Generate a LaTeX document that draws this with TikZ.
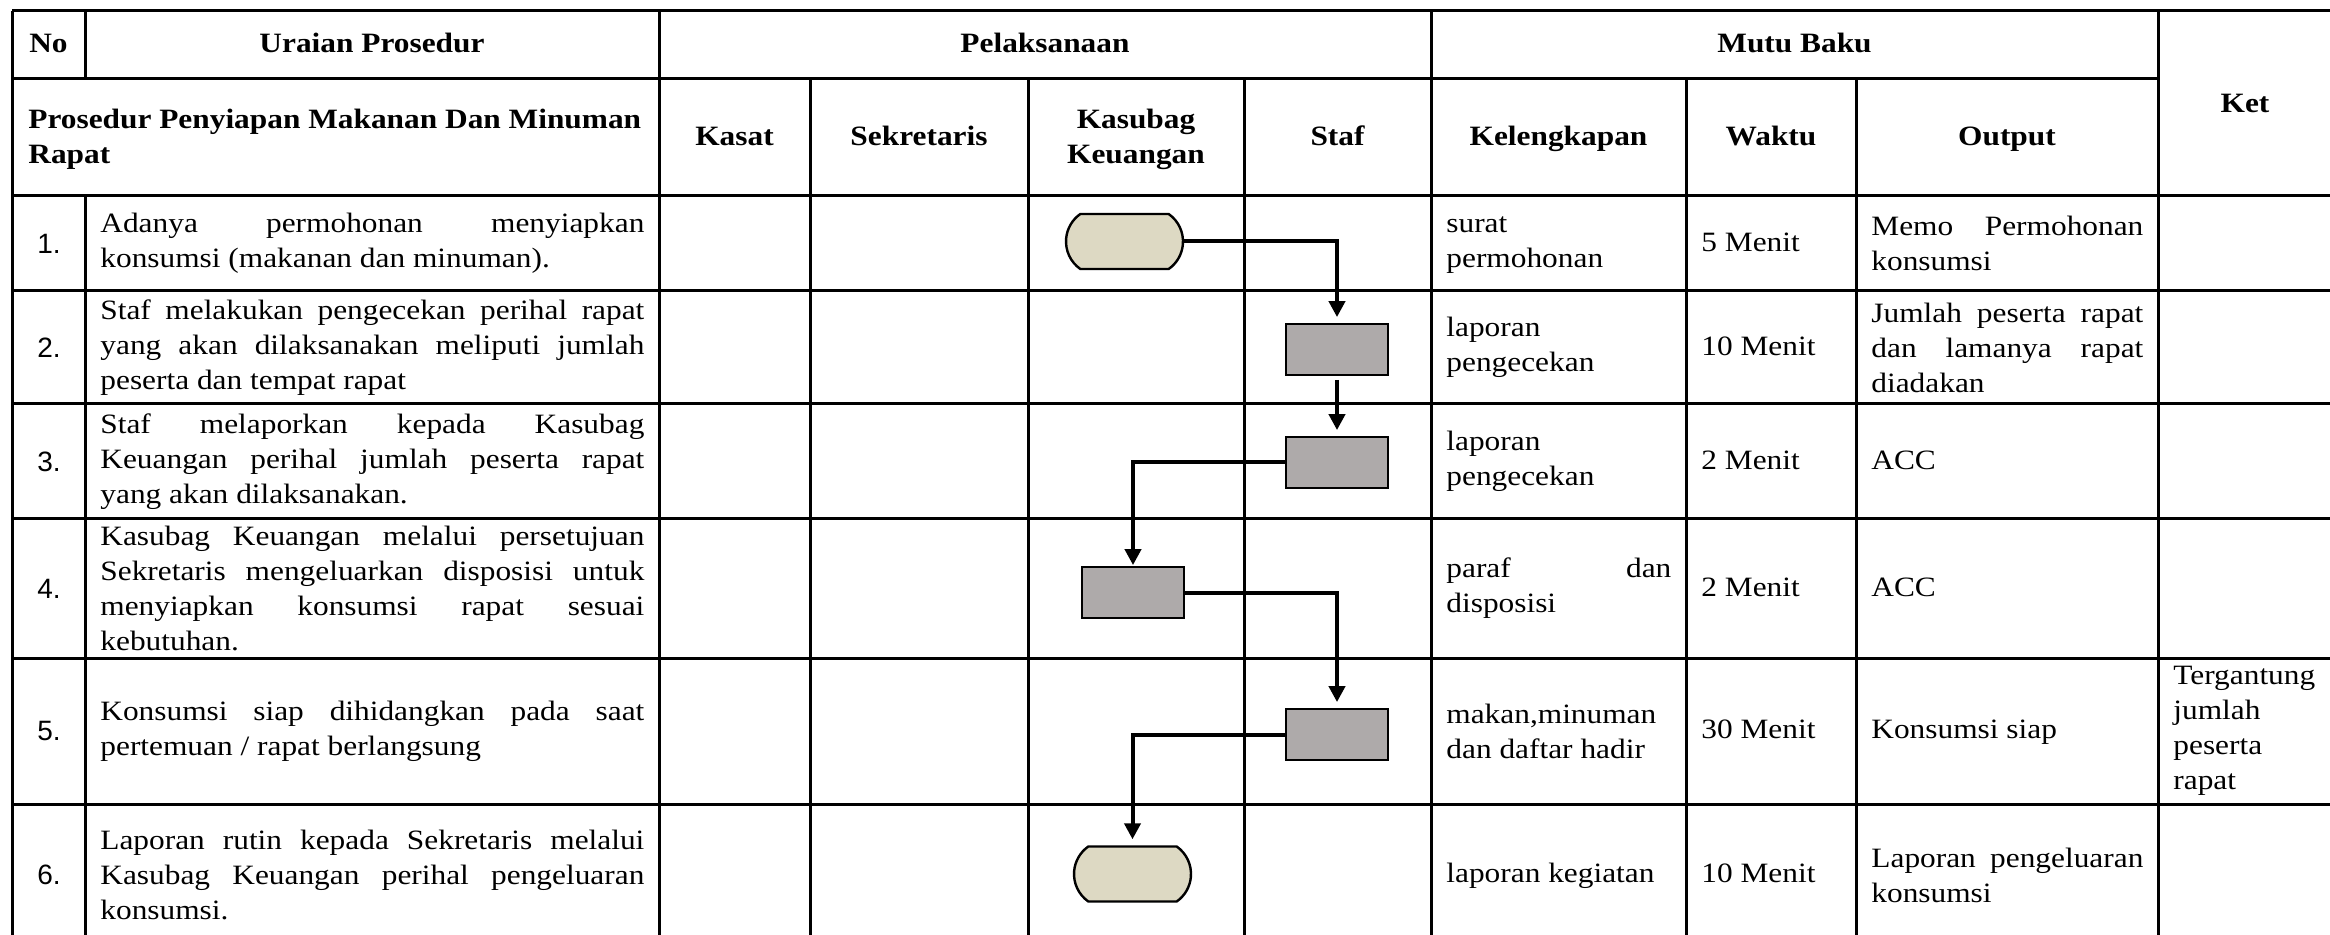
\documentclass[tikz,border=0pt]{standalone}
\usepackage{fontspec}
\setmainfont{Liberation Serif}[FakeStretch=1.12]
\newfontfamily\numfont{Liberation Sans}
\usetikzlibrary{arrows.meta,shapes.misc}
\definecolor{termfill}{HTML}{DDD9C3}
\definecolor{boxfill}{HTML}{AEAAAA}
\begin{document}
\begin{tikzpicture}[x=0.5pt,y=-0.5pt,
  grid/.style={line width=1.5pt},
  term/.style={rounded rectangle, rounded rectangle arc length=110, draw, line width=1.2pt, fill=termfill, minimum width=58.5pt, minimum height=27.5pt, inner sep=0pt},
  proc/.style={rectangle, draw, line width=0.9pt, fill=boxfill, minimum width=51pt, minimum height=25.5pt, inner sep=0pt},
  flow/.style={line width=2pt, -{Triangle[length=8pt,width=8pt]}, shorten >=3pt},
  one/.style={text height=9.8pt, text depth=3.2pt},
  hd/.style={font=\bfseries\fontsize{14}{17.5}\selectfont, align=center, inner sep=0pt},
  num/.style={font=\numfont\fontsize{14}{17.5}\selectfont, inner sep=0pt},
  body/.style={font=\fontsize{14}{17.5}\selectfont, inner sep=0pt, anchor=west},
  desc/.style={body, text width=272pt, align=justify},
  kel/.style={body, text width=112.5pt, align=justify},
  outp/.style={body, text width=136pt, align=justify},
  ketx/.style={body, text width=75pt, align=left}
]
\useasboundingbox (0,0) rectangle (2330,935);
\fill[white] (0,0) rectangle (2330,935);
\clip (0,0) rectangle (2330,935);

% grid
\draw[grid] (12,11) -- (2330,11);
\draw[grid] (12,79) -- (2158,79);
\foreach \yy in {196,291,404,519,658,804} \draw[grid] (12,\yy) -- (2330,\yy);
\draw[grid] (12,11) -- (12,935);
\draw[grid] (85,11) -- (85,79);
\draw[grid] (85,196) -- (85,935);
\foreach \xx in {659,1431,2158} \draw[grid] (\xx,11) -- (\xx,935);
\foreach \xx in {810,1028,1244,1686,1856} \draw[grid] (\xx,79) -- (\xx,935);

% header
\node[hd, one] (hNo) at (48.5,46) {No};
\node[hd, one] (hUr) at (372,46) {Uraian Prosedur};
\node[hd, one] (hPel) at (1045,46) {Pelaksanaan};
\node[hd, one] (hMutu) at (1794.5,46) {Mutu Baku};
\node[hd, one] (hKet) at (2245,106) {Ket};
\node[hd, align=left, anchor=west] (hPros) at (28,139) {Prosedur Penyiapan Makanan Dan Minuman\\Rapat};
\node[hd, one] (hKasat) at (734.5,139) {Kasat};
\node[hd, one] (hSek) at (919,139) {Sekretaris};
\node[hd] (hKsb) at (1136,139) {Kasubag\\Keuangan};
\node[hd, one] (hStaf) at (1337.5,139) {Staf};
\node[hd, one] (hKel) at (1558.5,139) {Kelengkapan};
\node[hd, one] (hWak) at (1771,139) {Waktu};
\node[hd, one] (hOut) at (2007,139) {Output};

% numbers
\node[num] (n1) at (49,243.5) {1.};
\node[num] (n2) at (49,347.5) {2.};
\node[num] (n3) at (49,461.5) {3.};
\node[num] (n4) at (49,588.5) {4.};
\node[num] (n5) at (49,731) {5.};
\node[num] (n6) at (49,875) {6.};

% descriptions
\node[desc] (d1) at (100,243.5) {Adanya permohonan menyiapkan\linebreak konsumsi (makanan dan minuman).};
\node[desc] (d2) at (100,347.5) {Staf melakukan pengecekan perihal rapat\linebreak yang akan dilaksanakan meliputi jumlah\linebreak peserta dan tempat rapat};
\node[desc] (d3) at (100,461.5) {Staf melaporkan kepada Kasubag\linebreak Keuangan perihal jumlah peserta rapat\linebreak yang akan dilaksanakan.};
\node[desc] (d4) at (100,588.5) {Kasubag Keuangan melalui persetujuan\linebreak Sekretaris mengeluarkan disposisi untuk\linebreak menyiapkan konsumsi rapat sesuai\linebreak kebutuhan.};
\node[desc] (d5) at (100,731) {Konsumsi siap dihidangkan pada saat\linebreak pertemuan / rapat berlangsung};
\node[desc] (d6) at (100,875) {Laporan rutin kepada Sekretaris melalui\linebreak Kasubag Keuangan perihal pengeluaran\linebreak konsumsi.};

% kelengkapan
\node[kel] (k1) at (1446,245) {surat\\permohonan};
\node[kel] (k2) at (1446,347.5) {laporan\\pengecekan};
\node[kel] (k3) at (1446,461.5) {laporan\\pengecekan};
\node[kel] (k4) at (1446,588.5) {paraf dan\linebreak disposisi};
\node[kel] (k5) at (1446,731) {makan,minuman\\dan daftar hadir};
\node[kel, one] (k6) at (1446,876) {laporan kegiatan};

% waktu
\node[body, one] (w1) at (1701,245) {5 Menit};
\node[body, one] (w2) at (1701,349) {10 Menit};
\node[body, one] (w3) at (1701,463) {2 Menit};
\node[body, one] (w4) at (1701,590) {2 Menit};
\node[body, one] (w5) at (1701,732) {30 Menit};
\node[body, one] (w6) at (1701,876) {10 Menit};

% output
\node[outp] (o1) at (1871,243.5) {Memo Permohonan\linebreak konsumsi};
\node[outp] (o2) at (1871,347.5) {Jumlah peserta rapat\linebreak dan lamanya rapat\linebreak diadakan};
\node[outp, one] (o3) at (1871,463) {ACC};
\node[outp, one] (o4) at (1871,590) {ACC};
\node[outp, one] (o5) at (1871,732) {Konsumsi siap};
\node[outp] (o6) at (1871,875) {Laporan pengeluaran\linebreak konsumsi};

% ket
\node[ketx] (ket5) at (2173,731) {Tergantung\\jumlah\\peserta\\rapat};

% flow shapes
\node[term] (t1) at (1124.5,241.5) {};
\node[proc] (b2) at (1337,349.5) {};
\node[proc] (b3) at (1337,462.5) {};
\node[proc] (b4) at (1133,592.5) {};
\node[proc] (b5) at (1337,734.5) {};
\node[term] (t6) at (1132.5,874) {};

% connectors
\draw[flow] (t1.east) -| (b2.north);
\draw[flow, shorten <=2pt] (b2.south) -- (b3.north);
\draw[flow, shorten >=0.5pt] (b3.west) -| (b4.north);
\draw[flow] (b4.east) -| (b5.north);
\draw[flow] (b5.west) -| (t6.north);
\end{tikzpicture}
\end{document}
